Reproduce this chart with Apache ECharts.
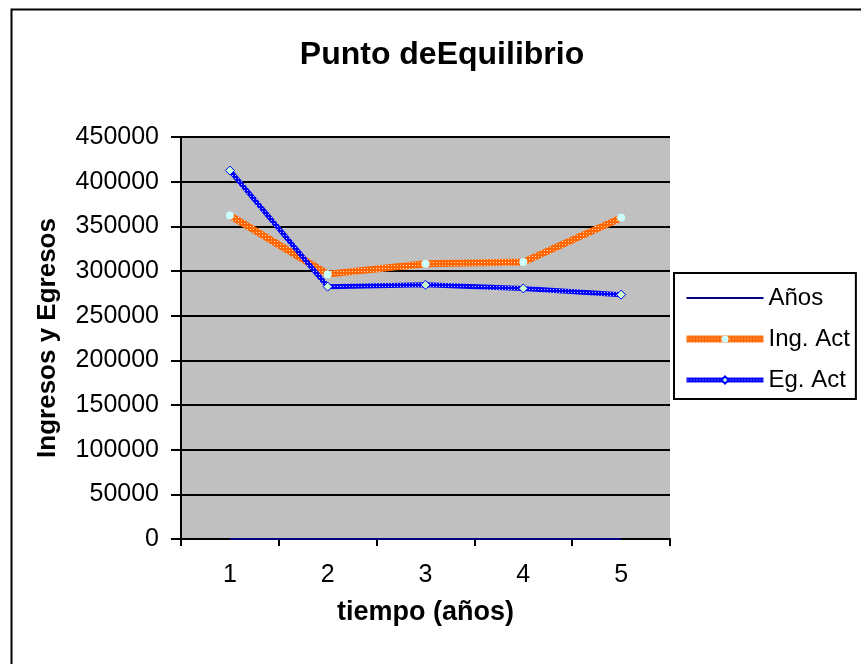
<!DOCTYPE html>
<html>
<head>
<meta charset="utf-8">
<script src="https://cdn.jsdelivr.net/npm/echarts@6/dist/echarts.min.js"></script>
<style>
  html, body { margin: 0; padding: 0; background: #ffffff; }
  #chart { width: 861px; height: 664px; }
</style>
</head>
<body>
<div id="chart"></div>
<script>
// Break-even chart: income and expenses over five years
const years = ['1', '2', '3', '4', '5'];
const anios = [1, 2, 3, 4, 5];
const ingAct = [362000, 296500, 308000, 310000, 359500];
const egAct = [412500, 282500, 284500, 280500, 273500];
const yTicks = { min: 0, max: 450000, interval: 50000 };

// small repeating textures for the hatched lines
function makePattern(base, light) {
  const c = document.createElement('canvas');
  c.width = 3; c.height = 3;
  const ctx = c.getContext('2d');
  ctx.fillStyle = base;
  ctx.fillRect(0, 0, 3, 3);
  ctx.fillStyle = light;
  ctx.fillRect(1, 1, 1, 1);
  return { image: c, repeat: 'repeat' };
}
const orangePattern = makePattern('#FF6600', '#FFD8B8');
const bluePattern = makePattern('#0000FF', '#B8B8FF');

const FONT = '"Liberation Sans", Arial, sans-serif';
const chart = echarts.init(document.getElementById('chart'));

chart.setOption({
  backgroundColor: '#ffffff',
  animation: false,
  textStyle: { fontFamily: FONT, color: '#000' },
  title: {
    text: 'Punto deEquilibrio',
    left: 437,
    textAlign: 'center',
    top: 34,
    textStyle: { fontFamily: FONT, fontSize: 32, fontWeight: 'bold', color: '#000' }
  },
  graphic: [{
    type: 'rect',
    left: 9, top: 7,
    shape: { width: 900, height: 700 },
    style: { fill: 'none', stroke: '#000', lineWidth: 2 },
    silent: true
  }],
  grid: {
    left: 181, right: 191, top: 137, bottom: 125,
    show: true,
    backgroundColor: '#C0C0C0',
    borderWidth: 0
  },
  legend: {
    orient: 'vertical',
    left: 674,
    top: 273,
    padding: [13, 6, 7, 9],
    itemGap: 17,
    itemWidth: 77,
    itemHeight: 9,
    itemTextGap: 5,
    borderColor: '#000',
    borderWidth: 2,
    backgroundColor: '#ffffff',
    lineStyle: { width: 'inherit' },
    textStyle: { fontFamily: FONT, fontSize: 24, color: '#000' },
    data: [
      { name: 'Años', icon: 'path://M0,0H77V2H0Z', itemStyle: { color: '#000080' } },
      { name: 'Ing. Act' },
      { name: 'Eg. Act' }
    ]
  },
  xAxis: {
    type: 'category',
    data: years,
    boundaryGap: true,
    name: 'tiempo (años)',
    nameLocation: 'middle',
    nameGap: 60,
    nameTextStyle: { fontFamily: FONT, fontSize: 27, fontWeight: 'bold', color: '#000' },
    axisLine: { show: true, lineStyle: { color: '#000', width: 2 } },
    axisTick: { show: true, length: 7, lineStyle: { color: '#000', width: 2 } },
    axisLabel: { fontFamily: FONT, fontSize: 25, color: '#000', margin: 24 },
    splitLine: { show: false }
  },
  yAxis: {
    type: 'value',
    min: yTicks.min,
    max: yTicks.max,
    interval: yTicks.interval,
    name: 'Ingresos y Egresos',
    nameLocation: 'middle',
    nameGap: 120,
    nameTextStyle: { fontFamily: FONT, fontSize: 26, fontWeight: 'bold', color: '#000' },
    axisLine: { show: true, lineStyle: { color: '#000', width: 2 } },
    axisTick: { show: true, inside: false, length: 10, lineStyle: { color: '#000', width: 2 } },
    axisLabel: {
      fontFamily: FONT, fontSize: 25, color: '#000', margin: 22,
      formatter: function (v) { return String(v); }
    },
    splitLine: { show: true, lineStyle: { color: '#000', width: 2 } }
  },
  series: [
    {
      name: 'Años',
      type: 'line',
      data: anios,
      symbol: 'none',
      lineStyle: { color: '#000080', width: 2 },
      itemStyle: { color: '#000080' }
    },
    {
      name: 'Ing. Act',
      type: 'line',
      data: ingAct,
      symbol: 'circle',
      symbolSize: 8,
      lineStyle: { color: orangePattern, width: 7 },
      itemStyle: { color: '#CCFFFF', borderWidth: 0 }
    },
    {
      name: 'Eg. Act',
      type: 'line',
      data: egAct,
      symbol: 'diamond',
      symbolSize: 9,
      lineStyle: { color: bluePattern, width: 5 },
      itemStyle: { color: '#CCFFCC', borderColor: '#0000FF', borderWidth: 1 }
    }
  ]
});
</script>
</body>
</html>
